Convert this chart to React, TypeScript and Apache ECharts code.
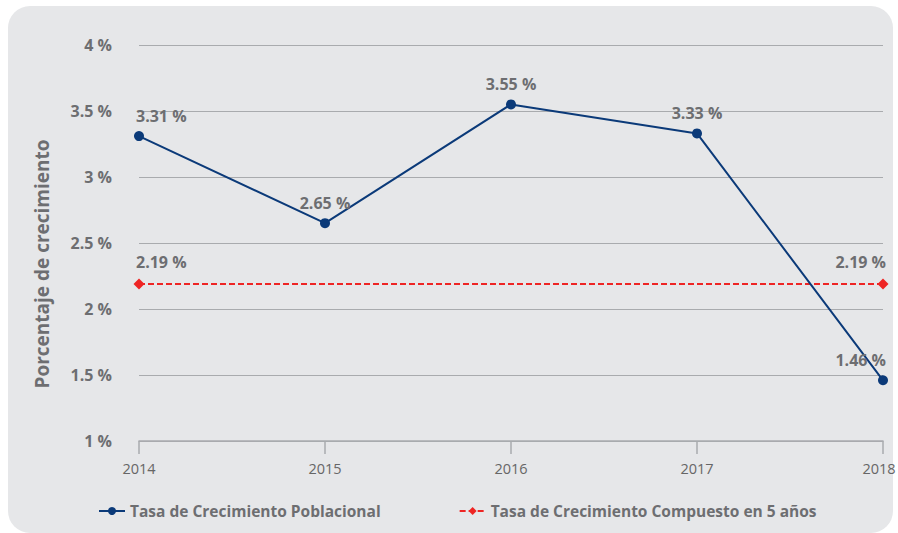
import React, { useEffect, useRef } from "react";
import * as echarts from "echarts";

const years = ["2014", "2015", "2016", "2017", "2018"];
const poblacional = [3.31, 2.65, 3.55, 3.33, 1.46];
const compuesto = [2.19, 2.19, 2.19, 2.19, 2.19];
const yTicks = { min: 1, max: 4, interval: 0.5 };
const serieNames = ["Tasa de Crecimiento Poblacional", "Tasa de Crecimiento Compuesto en 5 años"];
const yAxisName = "Porcentaje de crecimiento";

const FONT = "'Open Sans', 'Noto Sans', sans-serif";
const GRAY = "#6d6e71";
const BLUE = "#0b3a79";
const RED = "#ee2524";

export default function App() {
  const ref = useRef<HTMLDivElement>(null);
  useEffect(() => {
    if (!ref.current) return;
    const chart = echarts.init(ref.current, undefined, { renderer: "svg" });
    const last = years.length - 1;
    const labelFor = (i: number) =>
      i === 0 ? { align: "left", offset: [-3, 0] } : i === last ? { align: "right", offset: [3, 0] } : {};
    chart.setOption({
      animation: false,
      textStyle: { fontFamily: FONT },
      graphic: [
        {
          type: "rect",
          shape: { x: 8, y: 6, width: 885, height: 527, r: 22 },
          style: { fill: "#e6e7e9" },
          z: -10,
          silent: true,
        },
      ],
      grid: { left: 139, right: 15, top: 45, bottom: 92, containLabel: false, outerBoundsMode: "none" },
      legend: {
        left: 93,
        bottom: 9,
        itemGap: 78,
        itemWidth: 26,
        itemHeight: 10,
        textStyle: { fontFamily: FONT, fontWeight: "bold", fontSize: 15.5, color: GRAY },
        data: serieNames,
      },
      xAxis: {
        type: "category",
        data: years,
        boundaryGap: false,
        axisLine: { lineStyle: { color: "#a9abae", width: 1.5 } },
        axisTick: { length: 13, lineStyle: { color: "#a9abae", width: 1.5 } },
        axisLabel: {
          color: "#666",
          fontSize: 14.5,
          margin: 20,
          fontFamily: FONT,
          formatter: (v: string, i: number) => (i === last ? `{e|${v}}` : v),
          rich: { e: { fontSize: 14.5, color: "#666", fontFamily: FONT, padding: [0, 8, 0, 0] } },
        },
        splitLine: { show: false },
      },
      yAxis: {
        type: "value",
        min: yTicks.min,
        max: yTicks.max,
        interval: yTicks.interval,
        name: yAxisName,
        nameLocation: "middle",
        nameGap: 88,
        nameTextStyle: {
          fontFamily: FONT,
          fontWeight: "bold",
          fontSize: 19,
          color: GRAY,
          padding: [0, 42, 0, 0],
        },
        axisLine: { show: false },
        axisTick: { show: false },
        axisLabel: {
          color: GRAY,
          fontSize: 16,
          fontWeight: "bold",
          margin: 27,
          fontFamily: FONT,
          formatter: (v: number) => `${v} %`,
        },
        splitLine: { lineStyle: { color: "#a9abae", width: 1.2 } },
      },
      series: [
        {
          name: serieNames[0],
          type: "line",
          data: poblacional.map((v, i) => ({ value: v, label: labelFor(i) })),
          symbol: "circle",
          symbolSize: 10,
          lineStyle: { color: BLUE, width: 2 },
          itemStyle: { color: BLUE },
          label: {
            show: true,
            position: "top",
            distance: 7,
            color: GRAY,
            fontWeight: "bold",
            fontSize: 16,
            fontFamily: FONT,
            formatter: (p: any) => `${p.value} %`,
          },
          z: 3,
        },
        {
          name: serieNames[1],
          type: "line",
          data: compuesto.map((v, i) =>
            i === 0 || i === last
              ? { value: v, label: { show: true, ...labelFor(i) } }
              : { value: v, symbol: "none" }
          ),
          symbol: "diamond",
          symbolSize: 11,
          lineStyle: { color: RED, width: 2, type: [6, 3] },
          itemStyle: { color: RED },
          label: {
            show: false,
            position: "top",
            distance: 8,
            color: GRAY,
            fontWeight: "bold",
            fontSize: 16,
            fontFamily: FONT,
            formatter: (p: any) => `${p.value} %`,
          },
          z: 2,
        },
      ],
    });
    return () => chart.dispose();
  }, []);
  return (
    <div
      ref={ref}
      style={{ position: "absolute", left: 0, top: 0, width: 898, height: 533, background: "#fff" }}
    />
  );
}
